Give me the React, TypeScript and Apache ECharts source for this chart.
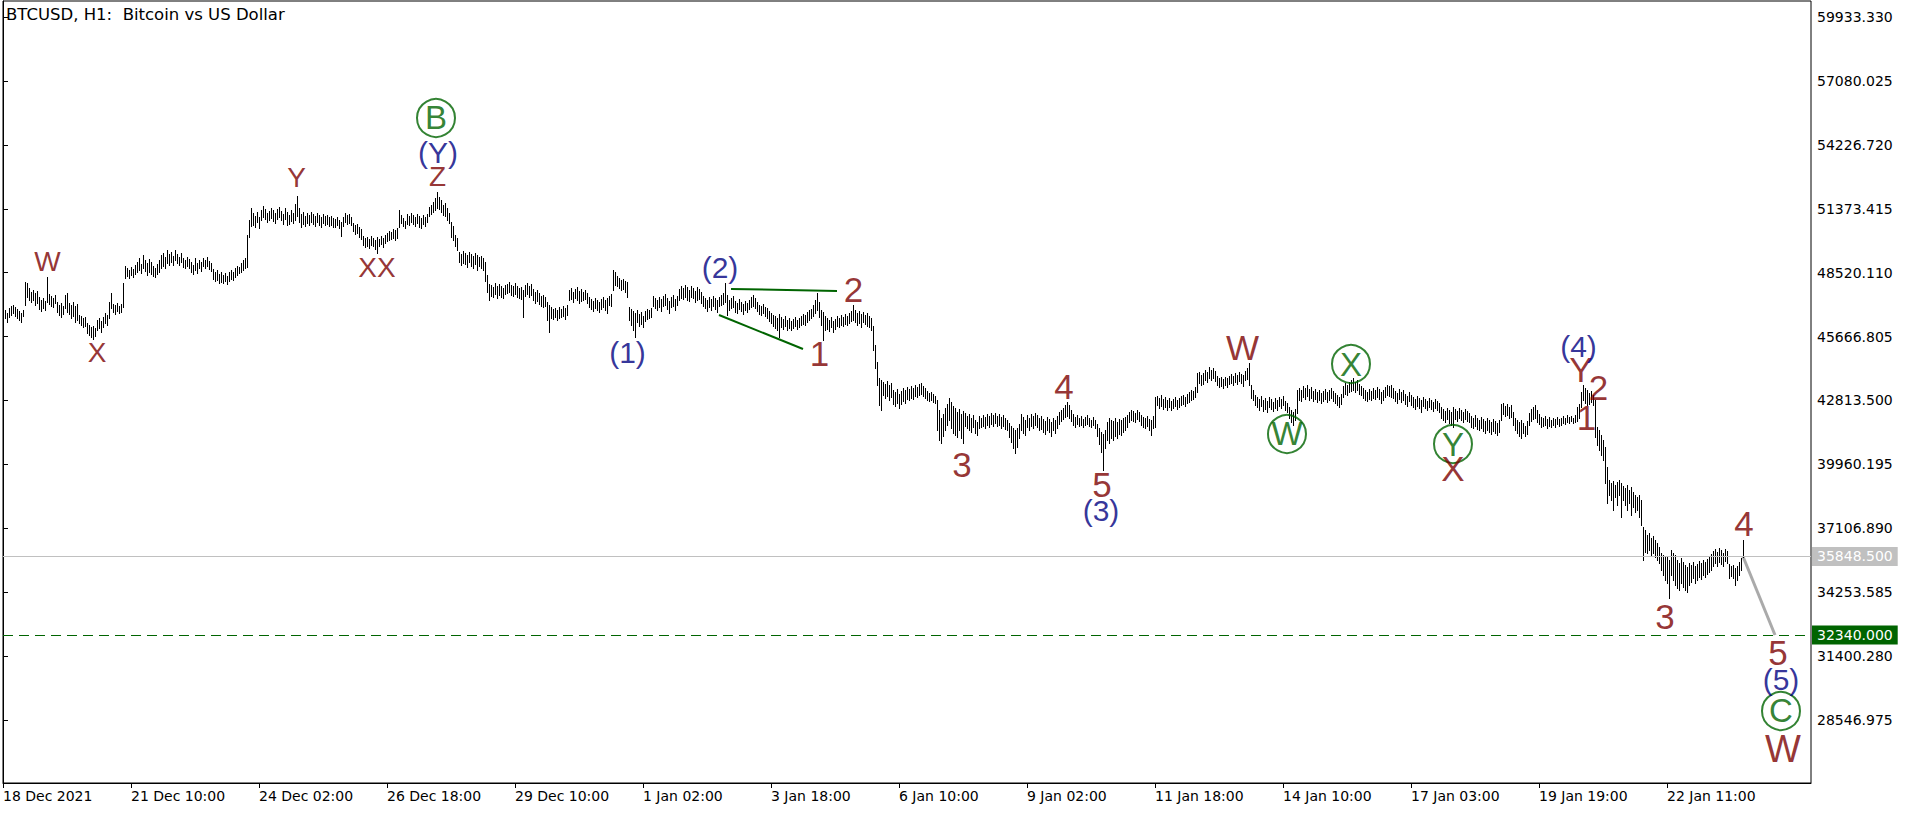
import { useEffect, useRef } from 'react';
import * as echarts from 'echarts';

const chartTitle = 'BTCUSD, H1:  Bitcoin vs US Dollar';
const firstBarUtc = Date.UTC(2021, 11, 18, 18);
const missingHoursUtc = [Date.UTC(2022, 0, 16, 0)];
const slotCount = 905;
const timeLabelStep = 64;
const lastTimeLabelIndex = 832;

const highs = [
  46765, 46855, 46720, 46945, 47030, 47075, 46985, 46900, 46810, 46720, 46855,
  48105, 48060, 47835, 47655, 47745, 47615, 47700, 47435, 47300, 47390,
  47255, 48325, 47570, 47480, 47390, 47525, 47210, 47075, 47165, 47030,
  47525, 47615, 47165, 47075, 47210, 47030, 47120, 46630, 46585, 46500,
  46540, 46275, 46185, 46095, 46140, 46050, 46410, 46500, 46365, 46540,
  46720, 46630, 47210, 47615, 47120, 47075, 47165, 47030, 47120, 48060,
  48820, 48730, 48640, 48775, 48685, 48865, 48995, 49175, 48910, 49310,
  49085, 48955, 49130, 48995, 48820, 48730, 48910, 49085, 49310, 49400,
  49220, 49535, 49355, 49445, 49265, 49535, 49355, 49220, 49400, 49175,
  49085, 49220, 49130, 48995, 48865, 49175, 48955, 49085, 48995, 49175,
  49085, 49220, 49040, 48955, 48685, 48550, 48640, 48460, 48550, 48415,
  48505, 48370, 48550, 48640, 48550, 48730, 48820, 48775, 48955, 49085,
  49175, 50205, 50870, 51410, 51185, 51050, 51230, 51005, 51320, 51495,
  51365, 51185, 51275, 51410, 51320, 51185, 51365, 51455, 51275, 51140,
  51410, 51230, 51095, 51320, 51185, 51585, 51945, 51410, 51140, 51230,
  51050, 51185, 51095, 51230, 51140, 51050, 51185, 51095, 51005, 51140,
  51050, 51095, 51005, 51050, 50960, 50915, 51005, 50870, 50780, 51005,
  51185, 51095, 51140, 51005, 50740, 50650, 50695, 50560, 50470, 50160,
  50070, 50115, 50025, 50160, 50070, 49980, 50115, 50025, 50160, 50070,
  50205, 50290, 50380, 50335, 50470, 50425, 50515, 51320, 51095, 50960,
  50825, 51140, 51050, 51185, 51095, 51005, 51140, 51050, 50960, 51095,
  51005, 51140, 51455, 51540, 51675, 51855, 52120, 51900, 51765, 51540,
  51630, 51410, 51185, 50780, 50605, 50205, 50070, 49445, 49355, 49490,
  49400, 49310, 49445, 49355, 49265, 49400, 49310, 49220, 49265, 49175,
  48995, 48415, 48015, 47970, 47880, 48060, 47925, 48015, 47925, 47835,
  47970, 48015, 48105, 47970, 47925, 48060, 47925, 47835, 47880, 47745,
  47970, 48060, 47925, 48015, 47790, 47655, 47745, 47615, 47480, 47525,
  47435, 47210, 47075, 46985, 46900, 46945, 46855, 46985, 46900, 47030,
  46945, 47075, 47745, 47835, 47655, 47790, 47880, 47700, 47790, 47655,
  47745, 47615, 47435, 47345, 47255, 47390, 47300, 47210, 47345, 47435,
  47300, 47390, 47480, 47570, 48640, 48550, 48370, 48285, 48195, 48240,
  48150, 48105, 46985, 46900, 46810, 46720, 46855, 46675, 46765, 46585,
  46810, 46900, 46855, 46945, 47480, 47390, 47300, 47435, 47345, 47480,
  47570, 47390, 47255, 47435, 47525, 47345, 47480, 47790, 47925, 47835,
  47970, 47880, 47745, 47925, 47835, 47700, 47880, 47790, 47655, 47480,
  47390, 47300, 47435, 47345, 47480, 47390, 47300, 47435, 47525, 47615,
  48060, 47525, 47300, 47390, 47480, 47255, 47165, 47345, 47210, 47120,
  47255, 47165, 47300, 47435, 47525, 47390, 47210, 47075, 47030, 47120,
  46985, 46945, 46810, 46720, 46630, 46585, 46500, 46675, 46540, 46455,
  46585, 46410, 46500, 46365, 46455, 46540, 46410, 46500, 46585, 46675,
  46630, 46765, 46855, 46900, 47075, 47300, 47615, 47210, 46855, 46765,
  46585, 46500, 46410, 46540, 46365, 46455, 46585, 46500, 46630, 46540,
  46675, 46585, 46720, 46810, 47075, 46855, 46720, 46810, 46675, 46765,
  46630, 46720, 46585, 46500, 46140, 45290, 44530, 43820, 43730, 43640,
  43550, 43685, 43505, 43595, 43280, 43190, 43325, 43105, 43235, 43370,
  43280, 43415, 43325, 43460, 43370, 43505, 43415, 43550, 43595, 43460,
  43370, 43235, 43150, 43190, 43105, 43015, 42835, 42390, 42030, 42210,
  42480, 42655, 42925, 42745, 42565, 42480, 42300, 42435, 42210, 42345,
  42255, 42120, 42210, 42030, 42165, 41940, 41850, 42120, 42030, 42165,
  42075, 42210, 42120, 42255, 42165, 42255, 42120, 42210, 42075, 42165,
  42030, 41940, 41810, 41675, 41585, 41495, 41585, 41765, 42210, 42075,
  41940, 42165, 42030, 42210, 42120, 42255, 42165, 42030, 42120, 41985,
  41895, 42075, 41985, 41850, 42030, 41940, 42120, 42300, 42390, 42480,
  42610, 42745, 42610, 42390, 42210, 42075, 42165, 42030, 42120, 41985,
  42075, 42165, 42030, 41940, 42075, 41940, 41765, 41585, 41405, 41315,
  41495, 41850, 42030, 41940, 41895, 42030, 41850, 41985, 41940, 42030,
  42075, 42165, 42300, 42390, 42345, 42255, 42390, 42300, 42165, 42075,
  42030, 42120, 41985, 41940, 42120, 42970, 43015, 42925, 43060, 42880,
  42970, 42835, 42925, 42790, 42880, 42970, 42835, 42925, 43015, 43060,
  42970, 43105, 43190, 43280, 43235, 43415, 44040, 44085, 43950, 44040,
  44175, 44085, 44310, 44175, 44265, 44130, 43905, 43820, 43860, 43775,
  43860, 43820, 43905, 43995, 43905, 44040, 43950, 44085, 43995, 43950,
  44130, 44265, 44490, 43505, 43280, 43060, 42970, 42880, 43015, 42835,
  42925, 42790, 42970, 42880, 42745, 42925, 42835, 42970, 42880, 43015,
  42790, 42700, 42520, 42390, 42300, 42435, 43280, 43370, 43280, 43460,
  43370, 43505, 43325, 43415, 43235, 43325, 43190, 43280, 43150, 43235,
  43325, 43190, 43280, 43370, 43235, 43150, 43060, 42970, 43105, 43460,
  43595, 43505, 43640, 43730, 43820, 43640, 43730, 43550, 43460, 43370,
  43280, 43190, 43325, 43235, 43370, 43280, 43415, 43325, 43190, 43280,
  43415, 43505, 43460, 43505, 43370, 43235, 43150, 43325, 43190, 43280,
  43105, 43015, 43190, 43060, 42970, 42880, 43015, 42925, 42835, 42970,
  42880, 42790, 42925, 42835, 42745, 42880, 42790, 42700, 42520, 42435,
  42345, 42480, 42390, 42300, 42520, 42435, 42345, 42480, 42390, 42300,
  42435, 42345, 42255, 42120, 42030, 42165, 42030, 41940, 42075, 41985,
  41895, 42030, 41940, 41850, 41985, 41895, 41810, 41940, 42655, 42700,
  42565, 42655, 42520, 42610, 42300, 42030, 41940, 41850, 41940, 41810,
  41675, 41895, 42255, 42435, 42520, 42610, 42390, 42210, 42075, 42030,
  42120, 41985, 42075, 41940, 42030, 41985, 42075, 41985, 42030, 42120,
  42030, 42165, 42075, 42120, 42030, 42165, 42520, 42655, 43190, 43505,
  43370, 43280, 43150, 43235, 43060, 42835, 41630, 41495, 41270, 41050,
  40735, 39845, 39265, 39130, 39220, 39040, 39175, 39265, 39130, 38995,
  38905, 39040, 38815, 38950, 38725, 38595, 38505, 38595, 38370, 37165,
  37030, 36805, 36895, 36675, 36760, 36585, 36450, 36270, 36005, 35915,
  35825, 35870, 35690, 36140, 36005, 35915, 35690, 35555, 35780, 35600,
  35470, 35380, 35555, 35470, 35600, 35425, 35510, 35645, 35555, 35690,
  35600, 35735, 35870, 35960, 36095, 36180, 36050, 36225, 36140, 36005,
  36180, 36095, 35510, 35425, 35470, 35335, 35425, 35600, 35780, 36585,
];

const lows = [
  46410, 46500, 46320, 46540, 46630, 46720, 46585, 46500, 46410, 46320, 46585,
  47075, 47435, 47300, 47210, 47300, 47075, 47165, 46900, 46810, 46945,
  46855, 47210, 47120, 47030, 46985, 47165, 46765, 46630, 46540, 46675,
  46945, 46765, 46675, 46500, 46585, 46320, 46410, 46275, 46185, 46095,
  46140, 45825, 45740, 45650, 45560, 45695, 45960, 46050, 45870, 46095,
  46275, 46185, 46500, 46945, 46765, 46675, 46810, 46720, 46765, 46985,
  48285, 48370, 48285, 48415, 48325, 48460, 48550, 48640, 48505, 48730,
  48595, 48415, 48550, 48460, 48370, 48325, 48460, 48550, 48730, 48820,
  48730, 48955, 48865, 48995, 48865, 49085, 48955, 48865, 48995, 48775,
  48730, 48820, 48730, 48550, 48460, 48640, 48505, 48730, 48595, 48820,
  48730, 48820, 48685, 48595, 48240, 48150, 48195, 48060, 48105, 48060,
  48150, 48015, 48150, 48240, 48195, 48325, 48415, 48505, 48550, 48640,
  48730, 48775, 50115, 50605, 50650, 50560, 50780, 50515, 50870, 51005,
  50915, 50780, 50870, 50960, 50825, 50740, 50915, 51005, 50870, 50695,
  50915, 50650, 50695, 50825, 50740, 50870, 51050, 50780, 50560, 50695,
  50605, 50740, 50650, 50780, 50695, 50605, 50780, 50650, 50560, 50740,
  50650, 50695, 50605, 50650, 50560, 50560, 50650, 50515, 50160, 50605,
  50780, 50695, 50740, 50650, 50380, 50250, 50290, 50115, 50025, 49755,
  49665, 49710, 49620, 49755, 49710, 49575, 49400, 49710, 49800, 49665,
  49845, 49935, 49980, 50025, 50070, 49980, 50070, 50560, 50740, 50605,
  50515, 50695, 50650, 50780, 50695, 50605, 50740, 50560, 50515, 50695,
  50605, 50780, 51050, 51140, 51230, 51320, 51410, 51365, 51230, 51095,
  51050, 50870, 50740, 50115, 49980, 49710, 49535, 48995, 48865, 48955,
  48910, 48775, 48995, 48820, 48730, 48910, 48640, 48820, 48730, 48640,
  48150, 47655, 47300, 47480, 47435, 47570, 47390, 47525, 47435, 47390,
  47570, 47615, 47655, 47525, 47480, 47570, 47435, 47390, 47345, 46540,
  47480, 47570, 47435, 47525, 47300, 47165, 47255, 47120, 47030, 46985,
  47030, 46410, 45870, 46500, 46455, 46540, 46410, 46500, 46540, 46585,
  46455, 46630, 47300, 47345, 47210, 47390, 47300, 47165, 47255, 47300,
  47345, 47165, 46985, 46900, 46810, 46945, 46855, 46765, 46900, 46985,
  46855, 46720, 47075, 47030, 47745, 47970, 47925, 47835, 47745, 47790,
  47655, 47435, 46410, 46185, 45960, 45650, 46320, 46140, 46230, 46095,
  46365, 46455, 46500, 46540, 47030, 46945, 46855, 46985, 46810, 47030,
  47075, 46900, 46720, 46985, 47030, 46855, 47075, 47300, 47390, 47345,
  47435, 47300, 47255, 47435, 47390, 47210, 47300, 47345, 47165, 47030,
  46945, 46810, 46985, 46855, 47030, 46900, 46765, 47030, 47075, 47120,
  47210, 46630, 46855, 46945, 46985, 46765, 46720, 46900, 46810, 46675,
  46855, 46765, 46900, 46985, 47030, 46945, 46810, 46675, 46630, 46720,
  46585, 46500, 46365, 46275, 46140, 46050, 45960, 45650, 46095, 46005,
  46140, 45960, 46050, 45960, 46050, 46140, 46005, 46095, 46185, 46230,
  46185, 46320, 46410, 46500, 46585, 46720, 46855, 46540, 46185, 45515,
  45960, 46005, 45915, 46095, 45870, 46005, 46140, 46095, 46185, 46140,
  46230, 46185, 46275, 46365, 46410, 46320, 46185, 46275, 46095, 46320,
  46230, 46140, 46095, 45960, 45070, 44265, 43505, 42610, 42390, 43060,
  42925, 43015, 42835, 42970, 42655, 42565, 42700, 42480, 42655, 42790,
  42700, 42880, 42835, 42925, 42880, 43015, 42970, 43060, 43105, 43015,
  42925, 42835, 42790, 42835, 42745, 42700, 41495, 41050, 40915, 41225,
  41495, 41720, 41940, 41585, 41360, 41270, 41180, 41495, 41140, 40915,
  41675, 41585, 41495, 41405, 41630, 41360, 41270, 41585, 41630, 41675,
  41585, 41720, 41630, 41765, 41675, 41810, 41675, 41720, 41585, 41675,
  41540, 41495, 41180, 40960, 40690, 40470, 40735, 41140, 41495, 41360,
  41270, 41630, 41495, 41675, 41585, 41720, 41630, 41495, 41540, 41405,
  41315, 41495, 41405, 41225, 41495, 41360, 41585, 41765, 41895, 41985,
  42075, 42120, 42030, 41895, 41720, 41630, 41765, 41675, 41720, 41630,
  41720, 41765, 41675, 41630, 41720, 41585, 41225, 40870, 40515, 39710,
  40690, 41050, 40915, 41140, 41050, 41225, 41140, 41315, 41270, 41405,
  41495, 41630, 41850, 41940, 41895, 41850, 41985, 41895, 41720, 41630,
  41585, 41675, 41495, 41270, 41585, 41630, 42610, 42480, 42565, 42435,
  42520, 42390, 42520, 42390, 42480, 42565, 42435, 42520, 42610, 42655,
  42565, 42700, 42745, 42835, 42880, 42970, 43190, 43595, 43505, 43550,
  43730, 43640, 43820, 43730, 43820, 43685, 43505, 43415, 43460, 43370,
  43505, 43415, 43550, 43595, 43505, 43640, 43550, 43685, 43595, 43460,
  43730, 43775, 43505, 42925, 42835, 42610, 42520, 42390, 42565, 42345,
  42435, 42300, 42520, 42435, 42345, 42480, 42390, 42565, 42480, 42610,
  42390, 42300, 42030, 41850, 41720, 41940, 42255, 42835, 42790, 42970,
  42880, 43015, 42835, 42925, 42790, 42880, 42745, 42835, 42700, 42790,
  42880, 42745, 42835, 42925, 42790, 42700, 42610, 42520, 42655, 42970,
  43105, 43060, 43190, 43235, 43280, 43190, 43280, 43105, 43060, 42925,
  42835, 42790, 42880, 42835, 42925, 42880, 42970, 42880, 42700, 42835,
  42970, 43060, 43015, 42970, 42925, 42790, 42700, 42880, 42745, 42835,
  42655, 42565, 42790, 42610, 42520, 42435, 42565, 42480, 42300, 42565,
  42480, 42390, 42520, 42435, 42345, 42480, 42390, 42300, 42030, 41940,
  41850, 41985, 41810, 41720, 41630, 41985, 41895, 42030, 41940, 41850,
  41985, 41895, 41850, 41630, 41585, 41675, 41540, 41495, 41585, 41450,
  41360, 41495, 41405, 41315, 41450, 41360, 41270, 41405, 41940, 42210,
  42120, 42165, 42030, 42075, 41720, 41495, 41360, 41225, 41140, 41360,
  41225, 41315, 41720, 41895, 41985, 42030, 41850, 41765, 41630, 41675,
  41720, 41585, 41675, 41630, 41720, 41630, 41765, 41675, 41720, 41810,
  41765, 41850, 41810, 41895, 41810, 41850, 41895, 42030, 42520, 42835,
  42700, 42610, 42655, 42745, 42610, 41180, 40825, 40600, 40380, 40155,
  39130, 38235, 38595, 38370, 37925, 38505, 38145, 38595, 37610, 38370,
  38145, 37925, 38235, 37700, 38055, 37835, 37925, 37610, 37255, 35690,
  36050, 36005, 36140, 35915, 36005, 35825, 35690, 35555, 35245, 35020,
  34800, 34665, 33995, 35020, 34800, 34575, 34440, 34350, 34665, 34485,
  34350, 34260, 34575, 34710, 34890, 34665, 34800, 34930, 34845, 35020,
  34930, 35065, 35155, 35245, 35425, 35555, 35425, 35600, 35510, 35425,
  35645, 35555, 34890, 34975, 34890, 34575, 34800, 35020, 35245, 35825,
];

const priceTicks = [
  59933.33, 57080.025, 54226.72, 51373.415, 48520.11, 45666.805,
  42813.5, 39960.195, 37106.89, 34253.585, 31400.28, 28546.975,
];
const priceMin = 25734;
const priceMax = 60652;
const bidPrice = 35848.5;
const targetPrice = 32340;
const projectionPath = [[870, 35848.5], [886, 32340]];
const wedgeUpper = [[364, 47792], [417, 47703]];
const wedgeLower = [[358, 46631], [400, 45113]];

// kind: m = small maroon letter, d = maroon digit/letter, n = navy degree, c = green circled, M = big maroon
const waveText = ['W', 'X', 'Y', 'B', '(Y)', 'Z', 'XX', '(1)', '(2)', '1', '2', '3', '4', '5', '(3)', 'W', 'W', 'X', 'Y', 'X', '(4)', 'Y', '2', '1', '3', '4', '5', '(5)', 'C', 'W'];
const waveBar = [22.25, 47, 146.75, 216.5, 217.5, 217.25, 187, 312.25, 358.5, 408.25, 425.25, 479.5, 530.5, 549.5, 549, 619.75, 642, 674, 725, 725, 787.75, 789, 797.75, 791.75, 831, 870.5, 887.5, 889, 889, 890];
const wavePrice = [49042, 44979, 52793, 55428, 53909, 52816, 48752, 44979, 48752, 44912, 47748, 39934, 43439, 39063, 37880, 45180, 41318, 44443, 40871, 39777, 45247, 44198, 43394, 42054, 33169, 37321, 31561, 30356, 28949, 27252];
const waveKind = ['m', 'm', 'm', 'c', 'n', 'm', 'm', 'n', 'n', 'd', 'd', 'd', 'd', 'd', 'n', 'd', 'c', 'c', 'c', 'd', 'n', 'd', 'd', 'd', 'd', 'd', 'd', 'n', 'c', 'M'];

const MONTHS = ['Jan', 'Feb', 'Mar', 'Apr', 'May', 'Jun', 'Jul', 'Aug', 'Sep', 'Oct', 'Nov', 'Dec'];

function buildTimes(): number[] {
  const out: number[] = [];
  let t = firstBarUtc;
  while (out.length < slotCount) {
    if (!missingHoursUtc.includes(t)) out.push(t);
    t += 3600000;
  }
  return out;
}
const times = buildTimes();

function timeLabel(i: number): string {
  const d = new Date(times[i]);
  if (i === 0) return `${d.getUTCDate()} ${MONTHS[d.getUTCMonth()]} ${d.getUTCFullYear()}`;
  const hh = String(d.getUTCHours()).padStart(2, '0');
  return `${d.getUTCDate()} ${MONTHS[d.getUTCMonth()]} ${hh}:00`;
}

const timeLabelIdx: number[] = [];
for (let i = 0; i <= lastTimeLabelIndex; i += timeLabelStep) timeLabelIdx.push(i);

const MAROON = '#7a0000';
const NAVY = '#000080';
const GREEN = '#006400';
const AXIS_FONT = 'DejaVu Sans, Verdana, sans-serif';
const LABEL_FONT = 'Liberation Sans, Arial, sans-serif';

function textSeries(kind: string, color: string, size: number) {
  const data = waveText
    .map((t, i) => ({ name: t, value: [waveBar[i], wavePrice[i]], k: waveKind[i] }))
    .filter((d) => d.k === kind)
    .map((d) => ({ name: d.name, value: d.value }));
  return {
    type: 'scatter',
    z: 5,
    silent: true,
    symbolSize: 1,
    itemStyle: { color: 'rgba(0,0,0,0)' },
    label: {
      show: true,
      position: 'inside',
      formatter: '{b}',
      color,
      fontSize: size,
      lineHeight: Math.round(size * 0.8),
      fontFamily: LABEL_FONT,
    },
    data,
  };
}

function circleSeries() {
  const data = waveText
    .map((t, i) => ({ name: t, value: [waveBar[i], wavePrice[i]], k: waveKind[i] }))
    .filter((d) => d.k === 'c')
    .map((d) => ({ name: d.name, value: d.value }));
  return {
    type: 'scatter',
    z: 5,
    silent: true,
    symbol: 'circle',
    symbolSize: 38,
    itemStyle: { color: 'rgba(0,0,0,0)', borderColor: GREEN, borderWidth: 2 },
    label: {
      show: true,
      position: 'inside',
      formatter: '{b}',
      color: GREEN,
      fontSize: 33,
      lineHeight: 26,
      fontFamily: LABEL_FONT,
    },
    data,
  };
}

export default function App() {
  const ref = useRef<HTMLDivElement>(null);
  useEffect(() => {
    if (!ref.current) return;
    const chart = echarts.init(ref.current, null, { renderer: 'svg', width: 1916, height: 813 });
    const n = Math.min(highs.length, lows.length);
    const barData = [];
    for (let i = 0; i < n; i++) barData.push([i, highs[i], lows[i]]);

    const option: any = {
      animation: false,
      backgroundColor: '#ffffff',
      title: {
        text: chartTitle,
        left: 6,
        top: 6,
        padding: 0,
        textStyle: { fontSize: 16.5, fontWeight: 'normal', color: '#000', fontFamily: AXIS_FONT },
      },
      grid: {
        left: 2,
        top: 1,
        right: 105,
        bottom: 30,
        show: true,
        borderColor: '#000',
        borderWidth: 1,
        backgroundColor: 'rgba(0,0,0,0)',
      },
      xAxis: {
        type: 'value',
        min: 0,
        max: slotCount - 1,
        axisLine: { show: true, lineStyle: { color: '#000', width: 1 } },
        axisTick: { show: true, length: 5, customValues: timeLabelIdx, lineStyle: { color: '#000' } },
        axisLabel: {
          customValues: timeLabelIdx,
          formatter: (v: number) => timeLabel(Math.round(v)),
          align: 'left',
          margin: 6,
          color: '#000',
          fontSize: 14,
          fontFamily: AXIS_FONT,
        },
        splitLine: { show: false },
      },
      yAxis: {
        type: 'value',
        position: 'right',
        min: priceMin,
        max: priceMax,
        axisLine: { show: true, lineStyle: { color: '#000', width: 1 } },
        axisTick: { show: true, length: 5, customValues: priceTicks, lineStyle: { color: '#000' } },
        axisLabel: {
          customValues: priceTicks,
          formatter: (v: number) => v.toFixed(3),
          margin: 6,
          color: '#000',
          fontSize: 14,
          fontFamily: AXIS_FONT,
        },
        splitLine: { show: false },
      },
      series: [
        {
          type: 'line',
          name: 'projection',
          z: 1,
          silent: true,
          symbol: 'none',
          data: projectionPath,
          lineStyle: { color: '#aaaaaa', width: 3 },
          markLine: {
            silent: true,
            symbol: ['none', 'none'],
            animation: false,
            data: [
              {
                yAxis: bidPrice,
                lineStyle: { color: '#c0c0c0', type: 'solid', width: 1 },
                label: {
                  show: true,
                  position: 'end',
                  distance: 1,
                  formatter: (p: any) => Number(p.value).toFixed(3),
                  color: '#ffffff',
                  backgroundColor: '#c0c0c0',
                  padding: [3, 5, 2, 5],
                  fontSize: 14,
                  fontFamily: AXIS_FONT,
                },
              },
              {
                yAxis: targetPrice,
                lineStyle: { color: GREEN, type: [10, 6], width: 1 },
                label: {
                  show: true,
                  position: 'end',
                  distance: 1,
                  formatter: (p: any) => Number(p.value).toFixed(3),
                  color: '#ffffff',
                  backgroundColor: GREEN,
                  padding: [3, 5, 2, 5],
                  fontSize: 14,
                  fontFamily: AXIS_FONT,
                },
              },
            ],
          },
        },
        {
          type: 'line',
          z: 1,
          silent: true,
          symbol: 'none',
          data: wedgeUpper,
          lineStyle: { color: GREEN, width: 2 },
        },
        {
          type: 'line',
          z: 1,
          silent: true,
          symbol: 'none',
          data: wedgeLower,
          lineStyle: { color: GREEN, width: 2 },
        },
        {
          type: 'custom',
          name: 'BTCUSD',
          z: 3,
          silent: true,
          encode: { x: 0, y: [1, 2] },
          data: barData,
          renderItem: (_params: any, api: any) => {
            const i = api.value(0);
            const top = api.coord([i, api.value(1)]);
            const bot = api.coord([i, api.value(2)]);
            const x = Math.round(top[0]) + 0.5;
            return {
              type: 'line',
              shape: { x1: x, y1: Math.round(top[1]), x2: x, y2: Math.round(bot[1]) + 1 },
              style: { stroke: '#000', lineWidth: 1 },
            };
          },
        },
        textSeries('m', MAROON, 28),
        textSeries('d', MAROON, 35),
        textSeries('M', MAROON, 38),
        textSeries('n', NAVY, 30),
        circleSeries(),
      ],
    };
    chart.setOption(option);
    return () => chart.dispose();
  }, []);
  return (
    <div
      ref={ref}
      style={{ position: 'fixed', left: 0, top: 0, width: 1916, height: 813, background: '#fff' }}
    />
  );
}
